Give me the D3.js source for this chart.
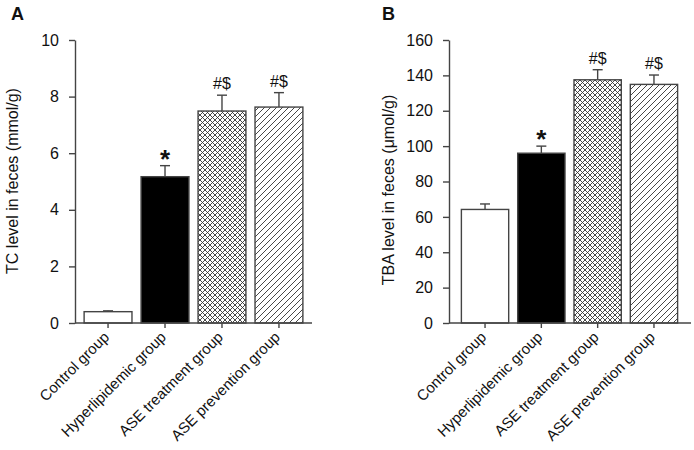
<!DOCTYPE html>
<html><head><meta charset="utf-8">
<script src="https://cdn.jsdelivr.net/npm/d3@7"></script>
<style>body{margin:0;background:#fff}svg{display:block}svg text{font-family:"Liberation Sans",Arial,sans-serif !important;fill:#111}</style>
</head><body><svg id="c" width="694" height="450"></svg>
<script>
const categories = ["Control group","Hyperlipidemic group","ASE treatment group","ASE prevention group"];
const tcValues = [0.40, 5.17, 7.49, 7.63];
const tcErrors = [0.03, 0.39, 0.56, 0.51];
const tbaValues = [64.2, 96.0, 137.5, 134.9];
const tbaErrors = [3.1, 4.0, 5.7, 5.3];
const tcMarks = ["", "*", "#$", "#$"];
const tbaMarks = ["", "*", "#$", "#$"];
const tcTicks = [0,2,4,6,8,10];
const tbaTicks = [0,20,40,60,80,100,120,140,160];
const fills = ["white","black","url(#cross)","url(#diag)"];

const svg = d3.select("#c");
const defs = svg.append("defs");
const pc = defs.append("pattern").attr("id","cross").attr("patternUnits","userSpaceOnUse").attr("width",5).attr("height",5);
pc.append("rect").attr("width",5).attr("height",5).attr("fill","white");
pc.append("path").attr("d","M0,0L5,5M0,5L5,0M-1,1L1,-1M4,6L6,4M-1,4L1,6M4,-1L6,1").attr("stroke","#333").attr("stroke-width",0.9);
const pd = defs.append("pattern").attr("id","diag").attr("patternUnits","userSpaceOnUse").attr("width",6).attr("height",6);
pd.append("rect").attr("width",6).attr("height",6).attr("fill","white");
pd.append("path").attr("d","M0,6L6,0M-1,1L1,-1M5,7L7,5").attr("stroke","#333").attr("stroke-width",0.9);

function panel(o){
  const g = svg.append("g");
  const x = d3.scaleBand().domain(categories).range([o.x0,o.x1]).paddingInner(0.16).paddingOuter(o.po);
  const y = d3.scaleLinear().domain([0,o.max]).range([o.yb,o.yt]);
  const ya = g.append("g").attr("transform",`translate(${o.x0},0)`)
    .call(d3.axisLeft(y).tickValues(o.ticks).tickSize(6).tickPadding(10).tickSizeOuter(0));
  ya.select(".domain").attr("stroke","#444").attr("stroke-width",1.4);
  ya.selectAll(".tick line").attr("stroke","#444").attr("stroke-width",1.4);
  ya.selectAll("text").attr("font-size",16).attr("fill","#111");
  g.selectAll("rect.bar").data(categories).join("rect").attr("class","bar")
    .attr("x",d=>x(d)).attr("width",x.bandwidth())
    .attr("y",(d,i)=>y(o.vals[i])).attr("height",(d,i)=>o.yb-y(o.vals[i]))
    .attr("fill",(d,i)=>fills[i]).attr("stroke","#444").attr("stroke-width",1.4);
  categories.forEach((d,i)=>{
    const cx = x(d)+x.bandwidth()/2;
    const top = y(o.vals[i]+o.errs[i]);
    g.append("line").attr("x1",cx).attr("x2",cx).attr("y1",y(o.vals[i])).attr("y2",top).attr("stroke","#444").attr("stroke-width",1.4);
    g.append("line").attr("x1",cx-5).attr("x2",cx+5).attr("y1",top).attr("y2",top).attr("stroke","#444").attr("stroke-width",1.4);
    if(o.marks[i]){
      const star = o.marks[i]==="*";
      g.append("text").attr("x",cx).attr("y",top-(star?-2:6)).attr("text-anchor","middle")
        .attr("font-size",star?26:16).attr("font-weight",star?"bold":"normal").text(o.marks[i]);
    }
  });
  const xa = g.append("g").attr("transform",`translate(0,${o.yb})`)
    .call(d3.axisBottom(x).tickSize(5).tickSizeOuter(0));
  xa.select(".domain").attr("stroke","#444").attr("stroke-width",1.4).attr("d",`M${o.x0},0H${o.xend}`);
  xa.selectAll(".tick line").attr("stroke","#444").attr("stroke-width",1.4);
  xa.selectAll("text").attr("font-size",15).attr("fill","#111")
    .attr("text-anchor","end").attr("dy",0).attr("y",0)
    .attr("transform","translate(2,15) rotate(-45)");
  g.append("text").attr("transform",`translate(${o.tx},${o.ty}) rotate(-90)`).attr("text-anchor","middle")
    .attr("font-size",16).text(o.title);
  g.append("text").attr("x",o.lx).attr("y",20).attr("font-size",18).attr("font-weight","bold").text(o.letter);
}
panel({x0:75,x1:312,xend:312,po:0.16,yb:323,yt:40,max:10,ticks:tcTicks,vals:tcValues,errs:tcErrors,marks:tcMarks,
  title:"TC level in feces (mmol/g)",tx:18,ty:181,letter:"A",lx:11});
panel({x0:449,x1:690,xend:691,po:0.22,yb:323,yt:40,max:160,ticks:tbaTicks,vals:tbaValues,errs:tbaErrors,marks:tbaMarks,
  title:"TBA level in feces (μmol/g)",tx:394,ty:190,letter:"B",lx:382});
</script></body></html>
